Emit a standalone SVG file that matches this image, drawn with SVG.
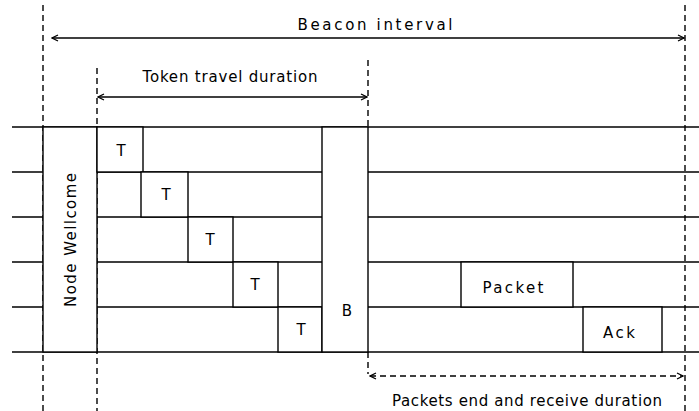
<svg xmlns="http://www.w3.org/2000/svg" width="699" height="411" viewBox="0 0 699 411">
<style>
.ln{stroke:#000;stroke-width:1.4;fill:none}
.ds{stroke:#000;stroke-width:1.4;fill:none;stroke-dasharray:6 4}
.bx{stroke:#000;stroke-width:1.4;fill:#fff}
text{font-family:"DejaVu Sans","Liberation Sans",sans-serif;font-size:15px;fill:#000;text-anchor:middle}
</style>
<defs>
<marker id="ah" viewBox="0 0 8 8" refX="7" refY="4" markerWidth="8" markerHeight="8" markerUnits="userSpaceOnUse" orient="auto-start-reverse">
<path d="M1,1 L7,4 L1,7" fill="none" stroke="#000" stroke-width="1.3"/>
</marker>
</defs>
<rect width="699" height="411" fill="#fff"/>
<g id="guides">
<line class="ds" x1="43" y1="5" x2="43" y2="411"/>
<line class="ds" x1="97" y1="68" x2="97" y2="411"/>
<line class="ds" x1="368" y1="60" x2="368" y2="127"/>
<line class="ds" x1="368" y1="352" x2="368" y2="374"/>
<line class="ds" x1="685" y1="5" x2="685" y2="411"/>
</g>
<g id="grid">
<line class="ln" x1="12" y1="127" x2="699" y2="127"/>
<line class="ln" x1="12" y1="352" x2="699" y2="352"/>
<path class="ln" d="M12,172H43M12,217H43M12,262H43M12,307H43"/>
<path class="ln" d="M97,172H322M97,217H322M97,262H322M97,307H322"/>
<path class="ln" d="M368,172H699M368,217H699M368,262H699M368,307H699"/>
</g>
<g id="node-wellcome">
<rect class="bx" x="43" y="127" width="54" height="225"/>
<text transform="translate(76,240) rotate(-90)" textLength="134" lengthAdjust="spacing">Node Wellcome</text>
</g>
<g id="token-1">
<rect class="bx" x="97" y="127" width="46" height="45"/>
<text x="121" y="156">T</text>
</g>
<g id="token-2">
<rect class="bx" x="141" y="172" width="47" height="45"/>
<text x="166" y="200">T</text>
</g>
<g id="token-3">
<rect class="bx" x="188" y="217" width="45" height="45"/>
<text x="210" y="245">T</text>
</g>
<g id="token-4">
<rect class="bx" x="233" y="262" width="45" height="45"/>
<text x="255" y="290">T</text>
</g>
<g id="token-5">
<rect class="bx" x="278" y="307" width="44" height="45"/>
<text x="301" y="335">T</text>
</g>
<g id="beacon">
<rect class="bx" x="322" y="127" width="46" height="225"/>
<text x="347" y="316">B</text>
</g>
<g id="packet">
<rect class="bx" x="461" y="262" width="112" height="45"/>
<text x="513" y="293" font-size="16" textLength="61" lengthAdjust="spacing">Packet</text>
</g>
<g id="ack">
<rect class="bx" x="583" y="307" width="79" height="45"/>
<text x="619" y="338" font-size="16" textLength="32" lengthAdjust="spacing">Ack</text>
</g>
<g id="connectors">
<line class="ln" x1="52" y1="38" x2="684" y2="38" marker-start="url(#ah)" marker-end="url(#ah)"/>
<line class="ln" x1="98" y1="97" x2="367" y2="97" marker-start="url(#ah)" marker-end="url(#ah)"/>
<line class="ds" x1="370" y1="376" x2="683" y2="376" marker-start="url(#ah)" marker-end="url(#ah)"/>
</g>
<g id="labels">
<text x="375" y="30" font-size="17" textLength="155" lengthAdjust="spacing">Beacon interval</text>
<text x="230" y="82" font-size="15" textLength="175" lengthAdjust="spacing">Token travel duration</text>
<text x="527" y="406" font-size="15" textLength="270" lengthAdjust="spacing">Packets end and receive duration</text>
</g>
</svg>
